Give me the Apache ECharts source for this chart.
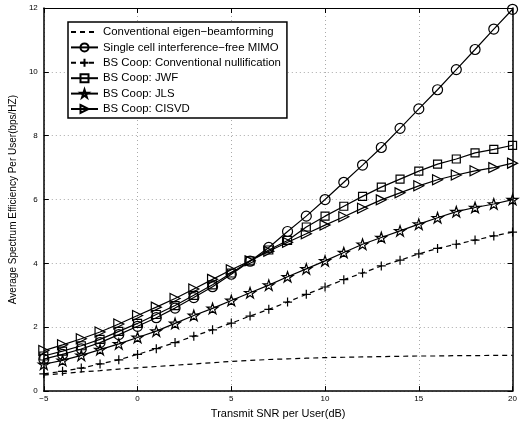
<!DOCTYPE html>
<html>
<head>
<meta charset="utf-8">
<script src="https://cdn.jsdelivr.net/npm/echarts@6/dist/echarts.min.js"></script>
<style>html,body{margin:0;padding:0;background:#fff}#c{width:520px;height:424px}</style>
</head>
<body>
<div id="c"></div>
<script>
const snr = [-5,-4,-3,-2,-1,0,1,2,3,4,5,6,7,8,9,10,11,12,13,14,15,16,17,18,19,20];
const eigenBF = [0.50,0.55,0.60,0.64,0.69,0.73,0.77,0.81,0.85,0.89,0.93,0.96,0.99,1.01,1.03,1.05,1.06,1.07,1.08,1.09,1.10,1.10,1.11,1.11,1.12,1.12];
const singleCell = [1.00,1.15,1.32,1.52,1.77,2.03,2.30,2.60,2.93,3.27,3.66,4.07,4.50,5.00,5.48,6.00,6.54,7.08,7.63,8.23,8.84,9.44,10.07,10.70,11.34,11.96];
const convNull = [0.54,0.62,0.72,0.85,0.98,1.15,1.33,1.52,1.72,1.92,2.13,2.35,2.56,2.79,3.03,3.26,3.49,3.70,3.92,4.10,4.30,4.47,4.60,4.73,4.86,4.98];
const jwf = [1.10,1.25,1.42,1.62,1.87,2.12,2.40,2.68,3.00,3.33,3.70,4.08,4.42,4.72,5.14,5.48,5.79,6.10,6.39,6.64,6.89,7.11,7.27,7.46,7.57,7.70];
const jls = [0.84,0.96,1.12,1.30,1.48,1.68,1.88,2.12,2.37,2.59,2.84,3.08,3.32,3.58,3.83,4.08,4.34,4.60,4.81,5.02,5.23,5.43,5.62,5.75,5.86,6.00];
const cisvd = [1.27,1.45,1.64,1.85,2.10,2.37,2.63,2.90,3.20,3.50,3.80,4.08,4.38,4.66,4.93,5.20,5.46,5.73,5.99,6.21,6.43,6.62,6.77,6.90,7.00,7.14];
const names = ['Conventional eigen\u2212beamforming','Single cell interference\u2212free MIMO','BS Coop: Conventional nullification','BS Coop: JWF','BS Coop: JLS','BS Coop: CISVD'];
const xTicks = {min:-5, max:20, interval:5};
const yTicks = {min:0, max:12, interval:2};

const FONT = 'Liberation Sans, Arial, Helvetica, sans-serif';
const pts = arr => snr.map((x,i)=>[x,arr[i]]);
const starPath = 'path://M50,0L61.8,36.2L100,36.2L69.1,58.8L80.9,95.1L50,72.7L19.1,95.1L30.9,58.8L0,36.2L38.2,36.2Z';
const plusPath = 'path://M5,0L5,10M0,5L10,5';
const triRight = 'path://M0,0L10,5L0,10Z';

function mk(name, data, symbol, size, dashed){
  return {
    name, type:'line', data: pts(data),
    symbol: symbol || 'none', symbolSize: size, symbolKeepAspect:true,
    showSymbol: !!symbol,
    lineStyle:{color:'#000', width:1.2, type: dashed ? [5,4] : 'solid'},
    itemStyle:{color:'rgba(255,255,255,0)', borderColor:'#000', borderWidth:1.2},
    emphasis:{disabled:true}, animation:false
  };
}

const chart = echarts.init(document.getElementById('c'), null, {renderer:'canvas'});
const minus = v => String(v).replace('-', '\u2212');
chart.setOption({
  animation:false,
  backgroundColor:'#fff',
  textStyle:{fontFamily:FONT},
  grid:{left:33, right:4, top:8, bottom:29, containLabel:false},
  legend:{
    orient:'vertical', left:68, top:22,
    padding:[4,6,3,2], itemGap:3.4, itemWidth:27, itemHeight:10,
    backgroundColor:'#fff', borderColor:'#000', borderWidth:1.5,
    textStyle:{fontFamily:FONT, fontSize:11.4, lineHeight:12, color:'#000'},
    data: names.map((n,i)=> i===0 ? {name:n, itemStyle:{borderColor:'rgba(0,0,0,0)', borderWidth:0, color:'rgba(0,0,0,0)'}} : {name:n})
  },
  xAxis:[{
    type:'value', min:xTicks.min, max:xTicks.max, interval:xTicks.interval,
    name:'Transmit SNR per User(dB)', nameLocation:'middle', nameGap:14,
    nameTextStyle:{fontFamily:FONT, fontSize:11, color:'#000'},
    axisLine:{onZero:false, lineStyle:{color:'#000', width:1.5}},
    axisTick:{inside:true, length:5, lineStyle:{color:'#000'}},
    axisLabel:{fontFamily:FONT, fontSize:8, color:'#000', margin:4, formatter:minus},
    splitLine:{show:true, lineStyle:{color:'#aaa', type:[1,3], width:1}}
  },{
    type:'value', position:'top', min:xTicks.min, max:xTicks.max, interval:xTicks.interval,
    axisLine:{show:true, onZero:false, lineStyle:{color:'#000', width:1}},
    axisTick:{inside:true, length:5, lineStyle:{color:'#000'}},
    axisLabel:{show:false}, splitLine:{show:false}
  }],
  yAxis:[{
    type:'value', min:yTicks.min, max:yTicks.max, interval:yTicks.interval,
    name:'Average Spectrum Efficiency Per User(bps/HZ)', nameLocation:'middle', nameGap:19,
    nameTextStyle:{fontFamily:FONT, fontSize:10, color:'#000'},
    axisLine:{show:true, onZero:false, lineStyle:{color:'#000', width:1.5}},
    axisTick:{show:true, inside:true, length:5, lineStyle:{color:'#000'}},
    axisLabel:{fontFamily:FONT, fontSize:8, color:'#000', margin:6},
    splitLine:{show:true, lineStyle:{color:'#aaa', type:[1,3], width:1}}
  },{
    type:'value', position:'right', min:yTicks.min, max:yTicks.max, interval:yTicks.interval,
    axisLine:{show:true, onZero:false, lineStyle:{color:'#000', width:1.5}},
    axisTick:{show:true, inside:true, length:5, lineStyle:{color:'#000'}},
    axisLabel:{show:false}, splitLine:{show:false}
  }],
  series:[
    mk(names[0], eigenBF, null, 0, true),
    mk(names[1], singleCell, 'circle', 10, false),
    mk(names[2], convNull, plusPath, 9, true),
    mk(names[3], jwf, 'rect', 8, false),
    mk(names[4], jls, starPath, 11, false),
    mk(names[5], cisvd, triRight, 10, false)
  ]
});
</script>
</body>
</html>
